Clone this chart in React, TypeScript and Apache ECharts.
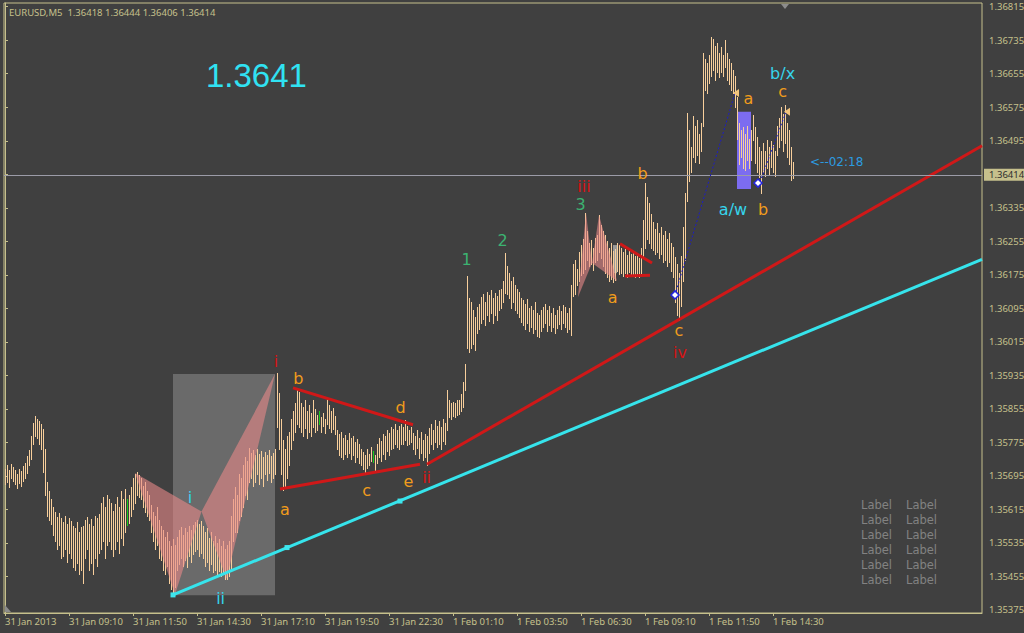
import React, { useEffect, useRef } from "react";
import * as echarts from "echarts";

// ---- data -------------------------------------------------------------

const SYMBOL = "EURUSD,M5";
const BASE = 1.35; // the point arrays below are measured from this price
const POINT = 0.00001;

// 5-minute bars from 31 Jan 06:30: highs and lows in points above 1.35000
const highs = [
  712, 720, 708, 724, 716, 710, 700, 712, 706, 718,
  726, 742, 756, 790, 822, 838, 832, 826, 818, 808,
  760, 680, 660, 640, 620, 610, 598, 606, 594, 586,
  600, 580, 594, 588, 576, 570, 585, 560, 572, 575,
  590, 598, 580, 592, 576, 600, 595, 604, 630, 644,
  622, 650, 640, 630, 612, 628, 645, 620, 658, 640,
  664, 640, 650, 668, 690, 700, 704, 698, 690, 672,
  680, 660, 650, 625, 610, 600, 620, 590, 575, 565,
  550, 560, 540, 528, 545, 530, 550, 565, 572, 555,
  570, 560, 575, 566, 578, 585, 590, 580, 588, 575,
  560, 570, 548, 560, 540, 552, 535, 545, 528, 540,
  520, 530, 540, 600, 640, 668, 650, 700, 690, 720,
  740, 730, 761, 750, 758, 745, 760, 748, 755, 740,
  752, 745, 758, 742, 750, 760, 940, 893, 830, 780,
  760, 790, 800, 830, 850, 870, 900, 895, 870, 860,
  876, 850, 865, 845, 876, 855, 840, 850, 835, 845,
  830, 881, 865, 850, 858, 838, 805, 795, 800, 785,
  792, 780, 798, 785, 790, 776, 782, 770, 760, 752,
  745, 760, 748, 765, 755, 745, 770, 785, 778, 795,
  790, 805, 798, 812, 808, 818, 805, 815, 820, 812,
  829, 815, 805, 812, 798, 790, 805, 785, 800, 780,
  795, 790, 810, 820, 805, 829, 815, 825, 812, 830,
  822, 900, 876, 870, 872, 868, 876, 876, 890, 920,
  962, 1172, 1120, 1110, 1090, 1075, 1098, 1105, 1122, 1130,
  1110, 1135, 1128, 1138, 1120, 1132, 1125, 1138, 1140, 1160,
  1228, 1195, 1180, 1160, 1170, 1150, 1140, 1135, 1120, 1115,
  1105, 1118, 1095, 1100, 1090, 1110, 1085, 1080, 1092, 1098,
  1105, 1090, 1100, 1085, 1095, 1080, 1092, 1100, 1088, 1102,
  1098, 1085, 1095, 1150, 1200, 1210, 1190, 1230, 1245, 1260,
  1322, 1280, 1250, 1258, 1240, 1262, 1270, 1318, 1295, 1280,
  1270, 1255, 1240, 1250, 1232, 1236, 1250, 1245, 1240, 1230,
  1236, 1222, 1238, 1225, 1232, 1220, 1228, 1215, 1240, 1306,
  1394, 1360, 1346, 1320, 1300, 1285, 1298, 1275, 1289, 1270,
  1280, 1260, 1275, 1250, 1242, 1218, 1200, 1180, 1220, 1290,
  1370, 1561, 1520, 1480, 1553, 1530, 1545, 1510, 1538, 1704,
  1690, 1680, 1700, 1743, 1738, 1722, 1728, 1705, 1718, 1700,
  1735, 1704, 1690, 1680, 1664, 1650, 1600, 1537, 1520, 1528,
  1510, 1530, 1500, 1520, 1556, 1528, 1505, 1480, 1470, 1490,
  1470, 1497, 1480, 1495, 1485, 1470, 1530, 1550, 1576, 1560,
  1580, 1537, 1520, 1480, 1444,
];

const lows = [
  675, 680, 668, 690, 682, 676, 665, 678, 672, 684,
  690, 702, 720, 735, 770, 790, 785, 772, 760, 705,
  650, 600, 590, 580, 555, 540, 520, 530, 500, 505,
  520, 490, 510, 498, 478, 470, 488, 462, 470, 440,
  500, 520, 470, 488, 460, 500, 480, 510, 520, 540,
  500, 530, 540, 520, 505, 520, 540, 510, 548, 530,
  560, 578, 582, 600, 615, 630, 650, 645, 640, 620,
  610, 600, 590, 560, 540, 520, 530, 500, 495, 470,
  460, 480, 440, 425, 411, 430, 470, 485, 500, 480,
  495, 478, 505, 490, 508, 515, 520, 505, 512, 500,
  480, 490, 470, 485, 465, 470, 455, 468, 455, 462,
  450, 448, 455, 470, 540, 560, 560, 590, 600, 620,
  650, 640, 680, 690, 670, 680, 700, 675, 690, 672,
  700, 685, 702, 680, 690, 700, 812, 760, 700, 662,
  670, 690, 720, 760, 780, 800, 820, 812, 800, 790,
  810, 785, 800, 790, 812, 800, 805, 819, 800, 815,
  798, 820, 810, 800, 808, 795, 760, 745, 740, 735,
  748, 740, 750, 735, 745, 728, 740, 726, 720, 712,
  702, 715, 720, 730, 728, 705, 725, 740, 730, 748,
  735, 755, 745, 760, 762, 770, 765, 760, 772, 770,
  780, 768, 770, 775, 760, 748, 762, 738, 750, 732,
  740, 721, 750, 770, 760, 775, 765, 772, 760, 778,
  770, 805, 835, 830, 838, 835, 840, 842, 850, 860,
  900, 1000, 990, 1000, 1010, 995, 1035, 1045, 1060, 1070,
  1055, 1080, 1065, 1085, 1060, 1078, 1068, 1090, 1095, 1110,
  1131, 1130, 1120, 1095, 1110, 1090, 1085, 1075, 1062, 1055,
  1045, 1060, 1040, 1050, 1035, 1045, 1030, 1027, 1040, 1050,
  1060, 1040, 1055, 1040, 1050, 1035, 1048, 1058, 1045, 1060,
  1050, 1038, 1045, 1031, 1125, 1130, 1150, 1160, 1175, 1180,
  1190, 1210, 1195, 1200, 1186, 1205, 1210, 1230, 1215, 1195,
  1180, 1170, 1160, 1165, 1158, 1162, 1185, 1178, 1180, 1172,
  1180, 1170, 1182, 1172, 1175, 1170, 1176, 1170, 1180, 1220,
  1240, 1260, 1250, 1240, 1235, 1225, 1230, 1215, 1225, 1205,
  1210, 1195, 1205, 1185, 1170, 1110, 1080, 1067, 1100, 1160,
  1210, 1352, 1400, 1420, 1456, 1445, 1460, 1442, 1470, 1530,
  1615, 1608, 1632, 1650, 1664, 1640, 1658, 1647, 1660, 1650,
  1670, 1640, 1630, 1615, 1608, 1575, 1500, 1440, 1456, 1430,
  1425, 1450, 1430, 1450, 1497, 1441, 1420, 1408, 1370, 1420,
  1410, 1430, 1415, 1432, 1420, 1410, 1460, 1480, 1497, 1470,
  1490, 1456, 1440, 1401, 1406,
];

// bars painted by the signal indicator
const greenBars = [61, 157, 184];

// the forming bar
const lastBar = { open: 1.36418, high: 1.36444, low: 1.36406, close: 1.36414 };
const barTimer = "<--02:18";
const bigPrice = "1.3641";

const SLOTS = 489; // visible bar slots, incl. the empty right margin

const timeTickBars = [0, 32, 64, 96, 128, 160, 192, 224, 256, 288, 320, 352, 384];
const timeTickLabels = [
  "31 Jan 2013", "31 Jan 09:10", "31 Jan 11:50", "31 Jan 14:30", "31 Jan 17:10",
  "31 Jan 19:50", "31 Jan 22:30", "1 Feb 01:10", "1 Feb 03:50", "1 Feb 06:30",
  "1 Feb 09:10", "1 Feb 11:50", "1 Feb 14:30",
];

const priceTicks = [
  1.35375, 1.35455, 1.35535, 1.35615, 1.35695, 1.35775, 1.35855, 1.35935,
  1.36015, 1.36095, 1.36175, 1.36255, 1.36335, 1.36414, 1.36495, 1.36575,
  1.36655, 1.36735, 1.36815,
];
const priceMin = 1.353678;
const priceMax = 1.368238;

// drawing objects, anchored at [bar index, points above 1.35000]
const boxes = [
  [84, 410, 135, 938, "gray"],
  [304, 1179, 306, 1246, "light"],
  [366, 1380, 373, 1564, "purple"],
];
const patterns = [
  [65, 702, 85, 412, 98.25, 610],
  [98.25, 610, 110.85, 449, 135, 938],
  [286.5, 1122, 290.5, 1323, 293.5, 1203],
  [293.5, 1203, 297, 1318, 306, 1160],
];
const redLines = [
  [137.5, 664, 207.5, 723],
  [144, 905, 204, 817],
  [211, 723, 488.5, 1483],
  [307.5, 1249, 323.5, 1203],
  [310, 1172, 322.5, 1174],
];
const cyanLines = [[84, 411, 488.5, 1212]];
const cyanAnchors = [[84, 411], [141, 524], [197.5, 635]];
const dottedLines = [
  [335, 1127, 365, 1609],
  [377.5, 1397, 390.5, 1564],
];
const pivotMarks = [[335, 1127], [376.5, 1394]];
const arrowMarks = [[365, 1609], [390.5, 1564]];

const waveLabels = [
  [135.5, 967, "i", "red"],
  [92.5, 643, "i", "cyan"],
  [107.8, 403, "ii", "cyan"],
  [146.7, 928, "b", "orange"],
  [140, 614, "a", "orange"],
  [180.8, 661, "c", "orange"],
  [197.8, 859, "d", "orange"],
  [201.7, 681, "e", "orange"],
  [210.8, 691, "ii", "red"],
  [230.8, 1212, "1", "green"],
  [248.8, 1258, "2", "green"],
  [287.8, 1343, "3", "green"],
  [289.5, 1387, "iii", "red"],
  [303.8, 1121, "a", "orange"],
  [318.8, 1416, "b", "orange"],
  [337, 1041, "c", "orange"],
  [337.5, 989, "iv", "red"],
  [371.7, 1596, "a", "orange"],
  [388.8, 1656, "b/x", "cyan"],
  [388.8, 1612, "c", "orange"],
  [364, 1332, "a/w", "cyan"],
  [379, 1332, "b", "orange"],
];

const infoLabels = ["Label", "Label", "Label", "Label", "Label", "Label"];

// ---- styles -----------------------------------------------------------

const BG = "#404040";
const FG = "#c6c08c";
const BAR = "#f8cf9c";
const GREEN_BAR = "#1ccc1c";
const UI_FONT = "'Noto Sans', 'DejaVu Sans', sans-serif";
const LABEL_FONT = "'DejaVu Sans', sans-serif";
const waveColors: Record<string, string> = {
  red: "#d41414",
  cyan: "#36d4ec",
  orange: "#f09c1c",
  green: "#3cb371",
};
const boxColors: Record<string, string> = {
  gray: "#6a6a6a",
  light: "#9a9a9a",
  purple: "#7c6cf0",
};

const toPrice = (pts: number) => +(BASE + pts * POINT).toFixed(6);
const toPoints = (price: number) => Math.round((price - BASE) / POINT);

function segmentSeries(name: string, segs: number[][], stroke: string, width: number, dash: number[] | null, z: number) {
  return {
    type: "custom",
    name,
    z,
    silent: true,
    data: segs.map((s) => [s[0], toPrice(s[1]), s[2], toPrice(s[3])]),
    encode: { x: [0, 2], y: [1, 3] },
    renderItem: (_p: any, api: any) => {
      const a = api.coord([api.value(0), api.value(1)]);
      const b = api.coord([api.value(2), api.value(3)]);
      const flat = Math.abs(a[1] - b[1]) < 0.01;
      const y1 = flat ? Math.round(a[1]) + 0.5 : a[1];
      const y2 = flat ? y1 : b[1];
      return {
        type: "line",
        shape: { x1: a[0], y1, x2: b[0], y2 },
        style: { stroke, lineWidth: width, lineDash: dash, lineCap: "butt" },
      };
    },
  };
}

export default function App() {
  const ref = useRef<HTMLDivElement>(null);

  useEffect(() => {
    if (!ref.current) return;
    const chart = echarts.init(ref.current, null, { renderer: "svg" });
    const green = new Set(greenBars);

    // each bar is a 1px high-low stroke, snapped to the pixel grid
    const barSeries = {
      type: "custom",
      name: SYMBOL,
      z: 3,
      silent: true,
      data: highs.map((h, i) => [i, toPrice(h), toPrice(lows[i])]),
      encode: { x: 0, y: [1, 2] },
      renderItem: (_p: any, api: any) => {
        const i = api.value(0);
        const top = api.coord([i, api.value(1)]);
        const bot = api.coord([i, api.value(2)]);
        const x = Math.round(top[0]);
        const y = Math.round(top[1]);
        return {
          type: "rect",
          shape: { x, y, width: 1, height: Math.max(1, Math.round(bot[1]) - y + 1) },
          style: { fill: green.has(i) ? GREEN_BAR : BAR },
        };
      },
    };

    const boxSeries = {
      type: "custom",
      name: "boxes",
      z: 2,
      silent: true,
      data: boxes.map((b) => [b[0], toPrice(b[1] as number), b[2], toPrice(b[3] as number)]),
      encode: { x: [0, 2], y: [1, 3] },
      renderItem: (p: any, api: any) => {
        const a = api.coord([api.value(0), api.value(1)]);
        const b = api.coord([api.value(2), api.value(3)]);
        return {
          type: "rect",
          shape: { x: a[0], y: b[1], width: b[0] - a[0], height: a[1] - b[1] },
          style: { fill: boxColors[boxes[p.dataIndex][4] as string] },
        };
      },
    };

    const patternSeries = {
      type: "custom",
      name: "patterns",
      z: 4,
      silent: true,
      data: patterns.map((t) => [t[0], toPrice(t[1]), t[2], toPrice(t[3]), t[4], toPrice(t[5])]),
      encode: { x: [0, 2, 4], y: [1, 3, 5] },
      renderItem: (_p: any, api: any) => {
        const pts = [0, 2, 4].map((k) => api.coord([api.value(k), api.value(k + 1)]));
        return {
          type: "polygon",
          shape: { points: pts },
          style: { fill: "rgba(236,138,138,0.58)" },
        };
      },
    };

    const squareSeries = {
      type: "custom",
      name: "anchors",
      z: 7,
      silent: true,
      data: cyanAnchors.map((a) => [a[0], toPrice(a[1])]),
      renderItem: (_p: any, api: any) => {
        const c = api.coord([api.value(0), api.value(1)]);
        return {
          type: "rect",
          shape: { x: c[0] - 2.5, y: c[1] - 2.5, width: 5, height: 5 },
          style: { fill: "#3ee6ee" },
        };
      },
    };

    const pivotSeries = {
      type: "custom",
      name: "pivots",
      z: 7,
      silent: true,
      data: pivotMarks.map((a) => [a[0], toPrice(a[1])]),
      renderItem: (_p: any, api: any) => {
        const c = api.coord([api.value(0), api.value(1)]);
        return {
          type: "polygon",
          shape: {
            points: [[c[0] - 4, c[1]], [c[0], c[1] - 4], [c[0] + 4, c[1]], [c[0], c[1] + 4]],
          },
          style: { fill: "#ffffff", stroke: "#2424e0", lineWidth: 1.5 },
        };
      },
    };

    const arrowSeries = {
      type: "custom",
      name: "arrows",
      z: 7,
      silent: true,
      data: arrowMarks.map((a) => [a[0], toPrice(a[1])]),
      renderItem: (_p: any, api: any) => {
        const c = api.coord([api.value(0), api.value(1)]);
        return {
          type: "polygon",
          shape: { points: [[c[0] - 2, c[1]], [c[0] + 4, c[1] - 4], [c[0] + 4, c[1] + 4]] },
          style: { fill: "#f2c47c" },
        };
      },
    };

    const textSeries = {
      type: "custom",
      name: "waves",
      z: 8,
      silent: true,
      data: waveLabels.map((l) => [l[0], toPrice(l[1] as number)]),
      renderItem: (p: any, api: any) => {
        const c = api.coord([api.value(0), api.value(1)]);
        const l = waveLabels[p.dataIndex];
        return {
          type: "text",
          x: c[0],
          y: c[1],
          style: {
            text: l[2],
            fill: waveColors[l[3] as string],
            fontSize: 16,
            fontFamily: LABEL_FONT,
            align: "center",
            verticalAlign: "middle",
            textAlign: "center",
            textVerticalAlign: "middle",
          },
        };
      },
    };

    const timerSeries = {
      type: "custom",
      name: "timer",
      z: 8,
      silent: true,
      data: [[402.5, toPrice(1444)]],
      renderItem: (_p: any, api: any) => {
        const c = api.coord([api.value(0), api.value(1)]);
        return {
          type: "text",
          x: c[0],
          y: c[1],
          style: {
            text: barTimer,
            fill: "#2c9ce0",
            fontSize: 12,
            fontFamily: LABEL_FONT,
            align: "left",
            verticalAlign: "middle",
            textAlign: "left",
            textVerticalAlign: "middle",
          },
        };
      },
    };

    const closePts = toPoints(lastBar.close);
    const bidLine = segmentSeries("bid", [[-0.5, closePts, SLOTS - 0.5, closePts]], "#9c9ca8", 1, null, 6);

    const header = `${SYMBOL}  ${lastBar.open.toFixed(5)} ${lastBar.high.toFixed(5)} ${lastBar.low.toFixed(5)} ${lastBar.close.toFixed(5)}`;

    const graphic: any[] = [
      {
        type: "text",
        x: 9,
        y: 12,
        z: 10,
        silent: true,
        style: {
          text: header,
          fill: FG,
          fontSize: 9.5,
          fontFamily: UI_FONT,
          align: "left",
          verticalAlign: "middle",
          textAlign: "left",
          textVerticalAlign: "middle",
        },
      },
      {
        type: "text",
        x: 206,
        y: 75,
        z: 10,
        silent: true,
        style: {
          text: bigPrice,
          fill: "#30e2f2",
          fontSize: 33,
          fontFamily: "'Liberation Sans', Arial, sans-serif",
          align: "left",
          verticalAlign: "middle",
          textAlign: "left",
          textVerticalAlign: "middle",
        },
      },
      {
        type: "polygon",
        z: 10,
        silent: true,
        shape: { points: [[781, 4], [789, 4], [785, 9]] },
        style: { fill: "#8c8c8c" },
      },
      {
        type: "polygon",
        z: 10,
        silent: true,
        shape: { points: [[5, 605], [5, 612], [11, 612]] },
        style: { fill: "#8c8c8c" },
      },
    ];
    infoLabels.forEach((t, r) => {
      [861, 906].forEach((x) => {
        graphic.push({
          type: "text",
          x,
          y: 505 + r * 15,
          z: 10,
          silent: true,
          style: {
            text: t,
            fill: "#828282",
            fontSize: 11.5,
            fontFamily: LABEL_FONT,
            align: "left",
            verticalAlign: "middle",
            textAlign: "left",
            textVerticalAlign: "middle",
          },
        });
      });
    });

    chart.setOption({
      animation: false,
      backgroundColor: BG,
      grid: {
        left: 4,
        top: 3,
        right: 42,
        bottom: 20,
        show: true,
        borderColor: FG,
        borderWidth: 1,
        backgroundColor: "transparent",
        outerBoundsMode: "none",
      },
      xAxis: {
        type: "value",
        min: -0.5,
        max: SLOTS - 0.5,
        position: "bottom",
        axisLine: { show: true, lineStyle: { color: FG, width: 1 } },
        axisTick: { show: true, length: 3, customValues: timeTickBars, lineStyle: { color: FG } },
        axisLabel: {
          customValues: timeTickBars,
          formatter: (v: number) => timeTickLabels[timeTickBars.indexOf(Math.round(v))] ?? "",
          color: FG,
          fontSize: 9.5,
          fontFamily: UI_FONT,
          align: "left",
          margin: 3,
        },
        splitLine: { show: false },
      },
      yAxis: {
        type: "value",
        position: "right",
        min: priceMin,
        max: priceMax,
        axisLine: { show: true, lineStyle: { color: FG, width: 1 } },
        axisTick: { show: true, length: 3, customValues: priceTicks, lineStyle: { color: FG } },
        axisLabel: {
          customValues: priceTicks,
          margin: 2,
          formatter: (v: number) =>
            Math.abs(v - lastBar.close) < 1e-7 ? `{cur|${v.toFixed(5)}}` : `{n|${v.toFixed(5)}}`,
          rich: {
            n: { color: FG, fontSize: 9.5, fontFamily: UI_FONT, padding: [1, 3, 1, 5] },
            cur: {
              color: "#2e2e2e",
              backgroundColor: FG,
              fontSize: 9.5,
              fontFamily: UI_FONT,
              padding: [1, 3, 1, 5],
            },
          },
        },
        splitLine: { show: false },
      },
      graphic,
      series: [
        boxSeries,
        barSeries,
        patternSeries,
        bidLine,
        segmentSeries("red trend", redLines, "#d01818", 3, null, 5),
        segmentSeries("cyan trend", cyanLines, "#36e4ec", 3, null, 5),
        segmentSeries("projection", dottedLines, "#1c1cc8", 1, [2, 2], 6),
        squareSeries,
        pivotSeries,
        arrowSeries,
        textSeries,
        timerSeries,
      ],
    });

    return () => chart.dispose();
  }, []);

  return (
    <div
      ref={ref}
      style={{ position: "fixed", left: 0, top: 0, width: 1024, height: 633 }}
    />
  );
}
